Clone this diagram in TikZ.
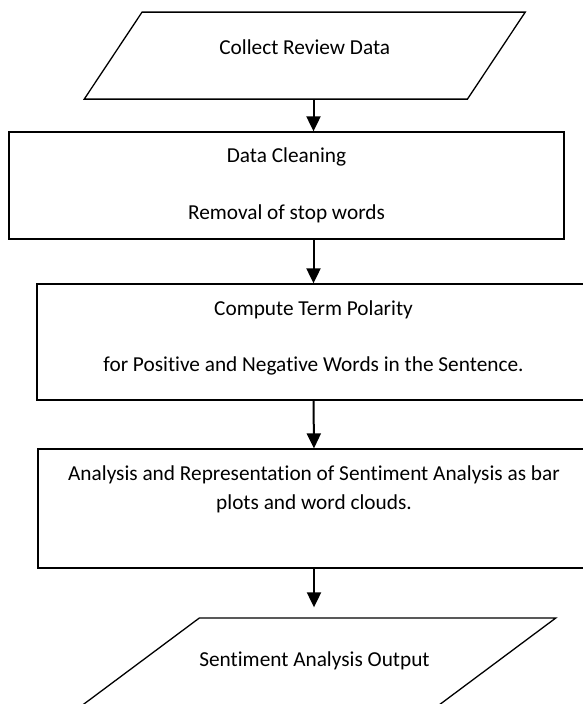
\documentclass[tikz,border=0pt]{standalone}
\usepackage{fontspec}
\setmainfont{Carlito}[Ligatures=CommonOff]
\usetikzlibrary{shapes.geometric, arrows.meta}

\newcommand{\flowfont}{\fontsize{21.3}{29}\selectfont}

\begin{document}
\begin{tikzpicture}[
    x=1pt, y=-1pt,
    stepbox/.style={draw=black, fill=white, rectangle, line width=1.3pt,
                    inner sep=0pt, align=center, font=\flowfont},
    io/.style={draw=black, fill=white, trapezium, trapezium stretches body=true,
               line width=1.3pt, inner sep=0pt, align=center, font=\flowfont},
    arrow/.style={draw=black, line width=2pt, -{Triangle[width=14pt, length=15pt]}},
]
\useasboundingbox (0,0) rectangle (582,704);

% Entrada
\node[io, trapezium left angle=56.4, trapezium right angle=123.6,
      minimum width=441pt, text height=42pt, text depth=45pt]
      (collect) at (304.75, 55.6) {Collect Review Data};

% Paso 1
\node[stepbox, minimum width=555pt, text height=87pt, text depth=20pt]
      (clean) at (286.5, 185.5) {Data Cleaning\\[28pt] Removal of stop words};

% Paso 2
\node[stepbox, minimum width=553pt, text height=87pt, text depth=29pt]
      (polarity) at (313.5, 342) {Compute Term Polarity\\[27pt]
      for Positive and Negative Words in the Sentence.};

% Paso 3
\node[stepbox, minimum width=552pt, text height=60pt, text depth=59pt]
      (analysis) at (314, 508.5) {Analysis and Representation of Sentiment Analysis as bar\\
      plots and word clouds.};

% Salida
\node[io, trapezium left angle=36.7, trapezium right angle=143.3,
      minimum width=481pt, text height=48pt, text depth=46pt]
      (output) at (314.5, 665) {Sentiment Analysis Output};

% Flechas
\draw[arrow] (collect.south -| polarity.north) -- (clean.north -| polarity.north);
\draw[arrow] (clean.south -| polarity.north) -- (polarity.north);
\draw[arrow] (polarity.south) -- (analysis.north);
\draw[arrow, shorten >=10pt] (analysis.south) -- (output.north -| analysis.south);

\end{tikzpicture}
\end{document}
